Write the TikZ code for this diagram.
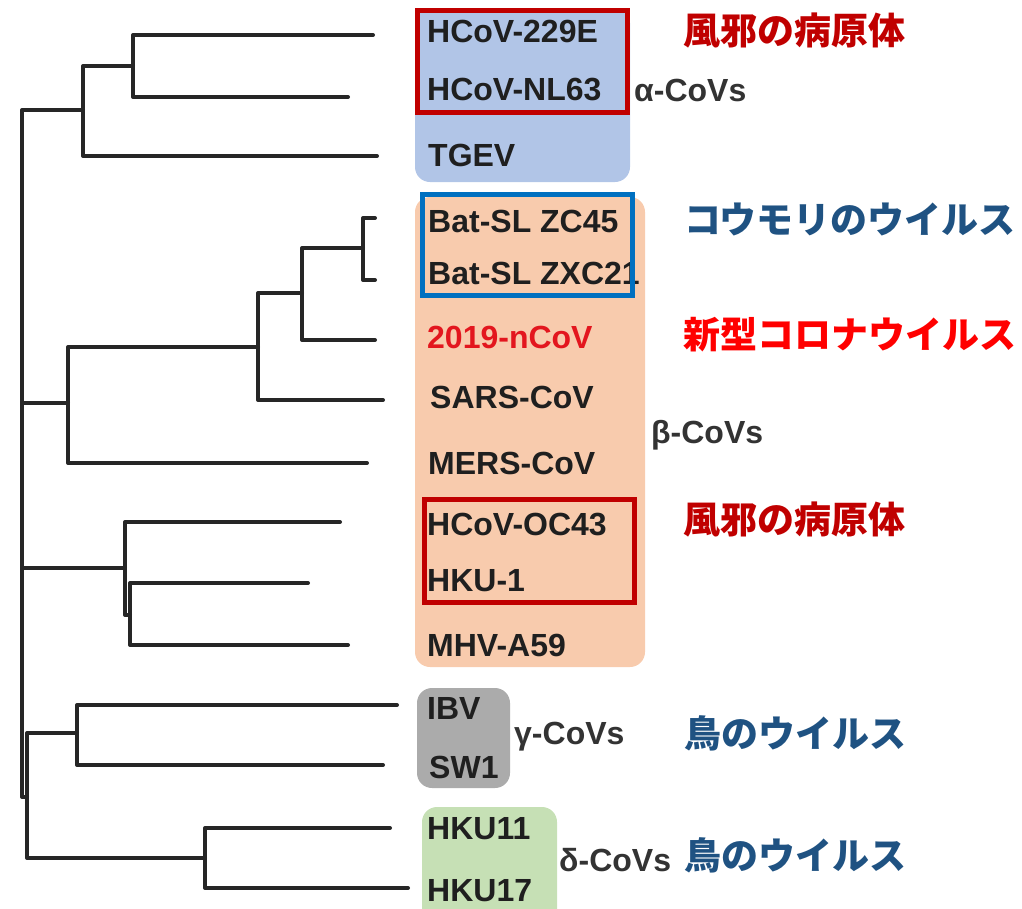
\documentclass[tikz,border=0pt]{standalone}
\usepackage{fontspec}
\setmainfont{Liberation Sans}
\newfontfamily\jp{Noto Sans CJK JP}
\begin{document}
\begin{tikzpicture}[x=1pt,y=-1pt,
  branch/.style={draw=black!85,line width=4pt,line cap=round,line join=round},
  leaf/.style={anchor=west,inner sep=0pt,font=\fontsize{32}{36}\selectfont\bfseries,text=black!88},
  clade/.style={anchor=west,inner sep=0pt,font=\fontsize{32}{36}\selectfont\bfseries,text=black!80},
  jlab/.style={anchor=west,inner sep=0pt,font=\jp\bfseries\fontsize{37}{40}\selectfont},
  groupbox/.style={rounded corners=15pt,draw=none},
  frame/.style={draw,line width=5pt}]
\definecolor{alphab}{HTML}{B1C5E7}
\definecolor{betab}{HTML}{F8CBAD}
\definecolor{gammab}{HTML}{ABABAB}
\definecolor{deltab}{HTML}{C6E0B5}
\definecolor{dred}{HTML}{C00000}
\definecolor{bred}{HTML}{FF0000}
\definecolor{dblue}{HTML}{1F5282}
\definecolor{fblue}{HTML}{0070C0}
\definecolor{nred}{HTML}{E3161E}
\useasboundingbox (0,0) rectangle (1022,908);
\clip (0,0) rectangle (1022,908);
% group backgrounds
\fill[alphab,groupbox] (415,8) rectangle (630,182);
\fill[betab,groupbox] (415,197) rectangle (645,667);
\fill[gammab,groupbox] (417,688) rectangle (510,788);
\fill[deltab,groupbox] (422,807) rectangle (557,930);
% tree coordinates
\coordinate (R) at (22,450);
\coordinate (A) at (83,110);
\coordinate (a1) at (133,66);
\coordinate (e229) at (373,35);
\coordinate (eNL) at (348,97);
\coordinate (eTG) at (377,156);
\coordinate (B1) at (68,403);
\coordinate (b1) at (258,347);
\coordinate (b2) at (302,293);
\coordinate (b3) at (363,248);
\coordinate (eZC) at (375,218);
\coordinate (eZX) at (375,280);
\coordinate (eNC) at (375,340);
\coordinate (eSA) at (383,400);
\coordinate (eME) at (367,463);
\coordinate (B2) at (125,568);
\coordinate (c2) at (130,615);
\coordinate (eOC) at (340,522);
\coordinate (eHK) at (308,583);
\coordinate (eMH) at (348,645);
\coordinate (GD) at (27,797);
\coordinate (G) at (77,733);
\coordinate (D) at (205,858);
\coordinate (eIB) at (397,705);
\coordinate (eSW) at (383,765);
\coordinate (e11) at (390,828);
\coordinate (e17) at (408,888);
% tree branches
\draw[branch] (R) |- (A);
\draw[branch] (R) |- (B1);
\draw[branch] (R) |- (B2);
\draw[branch] (R) |- (GD);
\draw[branch] (A) |- (a1);
\draw[branch] (A) |- (eTG);
\draw[branch] (a1) |- (e229);
\draw[branch] (a1) |- (eNL);
\draw[branch] (B1) |- (b1);
\draw[branch] (B1) |- (eME);
\draw[branch] (b1) |- (b2);
\draw[branch] (b1) |- (eSA);
\draw[branch] (b2) |- (b3);
\draw[branch] (b2) |- (eNC);
\draw[branch] (b3) |- (eZC);
\draw[branch] (b3) |- (eZX);
\draw[branch] (B2) |- (eOC);
\draw[branch] (B2) |- (c2);
\draw[branch] (c2) |- (eHK);
\draw[branch] (c2) |- (eMH);
\draw[branch] (GD) |- (G);
\draw[branch] (GD) |- (D);
\draw[branch] (G) |- (eIB);
\draw[branch] (G) |- (eSW);
\draw[branch] (D) |- (e11);
\draw[branch] (D) |- (e17);
% leaf labels
\node[leaf] (l229) at (427,31) {HCoV-229E};
\node[leaf] (lNL) at (427,90) {HCoV-NL63};
\node[leaf] (lTG) at (428,155) {TGEV};
\node[leaf] (lZC) at (428,221) {Bat-SL ZC45};
\node[leaf] (lZX) at (428,273) {Bat-SL ZXC21};
\node[leaf,text=nred] (lNC) at (427,337) {2019-nCoV};
\node[leaf] (lSA) at (430,397) {SARS-CoV};
\node[leaf] (lME) at (428,463) {MERS-CoV};
\node[leaf] (lOC) at (427,524) {HCoV-OC43};
\node[leaf] (lHK) at (427,581) {HKU-1};
\node[leaf] (lMH) at (427,645) {MHV-A59};
\node[leaf] (lIB) at (427,708) {IBV};
\node[leaf] (lSW) at (429,767) {SW1};
\node[leaf] (l11) at (427,829) {HKU11};
\node[leaf] (l17) at (427,891) {HKU17};
% frames
\draw[frame,dred] (417.5,10) rectangle (627.5,112);
\draw[frame,fblue] (422,194) rectangle (632,295);
\draw[frame,dred] (424,499.5) rectangle (634.5,602);
% clade labels
\node[clade] (ca) at (634,90) {α-CoVs};
\node[clade] (cb) at (651,435) {β-CoVs};
\node[clade] (cg) at (514,737) {γ-CoVs};
\node[clade] (cd) at (559,860) {δ-CoVs};
% Japanese labels
\node[jlab,text=dred] (j1) at (683,31) {風邪の病原体};
\node[jlab,text=dblue] (j2) at (684,219) {コウモリのウイルス};
\node[jlab,text=bred] (j3) at (683,335) {新型コロナウイルス};
\node[jlab,text=dred] (j4) at (683,520) {風邪の病原体};
\node[jlab,text=dblue] (j5) at (684,733) {鳥のウイルス};
\node[jlab,text=dblue] (j6) at (684,855) {鳥のウイルス};
\end{tikzpicture}
\end{document}
